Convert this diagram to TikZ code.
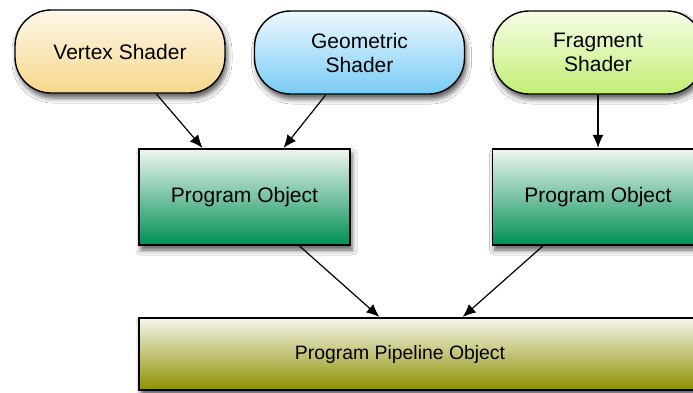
\documentclass[tikz,border=0pt]{standalone}
\usepackage{fontspec}
\setmainfont{Liberation Sans}
\usetikzlibrary{arrows.meta,shadows.blur,calc}

\definecolor{vtop}{HTML}{FEF8EA}\definecolor{vmid}{HTML}{FBE8BC}\definecolor{vbot}{HTML}{F6D68A}
\definecolor{gtop}{HTML}{EEF8FE}\definecolor{gmid}{HTML}{B9E3F9}\definecolor{gbot}{HTML}{78CCF5}
\definecolor{ftop}{HTML}{F7FDE6}\definecolor{fmid}{HTML}{E2F7B4}\definecolor{fbot}{HTML}{C3EE75}
\definecolor{ptop}{HTML}{EEF6F1}\definecolor{pmid}{HTML}{86C8A4}\definecolor{pbot}{HTML}{008F55}
\definecolor{ltop}{HTML}{F6F6EC}\definecolor{lmid}{HTML}{CBCB90}\definecolor{lbot}{HTML}{8C9100}

\tikzset{
  labelfont/.style={font=\fontsize{21}{24}\selectfont, text=black},
  boxbase/.style={draw=black, line width=1.4pt, align=center, labelfont,
    blur shadow={shadow xshift=2pt, shadow yshift=-5pt, shadow blur radius=5pt, shadow opacity=65}},
  shaderbox/.style={boxbase, rounded corners=36pt, minimum width=210pt, minimum height=83pt},
  progbox/.style={boxbase, minimum width=211pt, minimum height=96pt,
    top color=ptop, middle color=pmid, bottom color=pbot},
  pipebox/.style={boxbase, minimum width=564pt, minimum height=72pt,
    top color=ltop, middle color=lmid, bottom color=lbot},
  flow/.style={draw=black, line width=1.2pt, -{Latex[length=13pt,width=11pt]}, shorten <=0.5pt, shorten >=0.5pt}
}

\begin{document}
\begin{tikzpicture}[x=1pt, y=-1pt]
  \clip (0,0) rectangle (693,392);
  \fill[white] (0,0) rectangle (693,392);

  % shader stages
  \node[shaderbox, top color=vtop, middle color=vmid, bottom color=vbot] (vs) at (120,51.5) {Vertex Shader};
  \node[shaderbox, top color=gtop, middle color=gmid, bottom color=gbot] (gs) at (359.5,52.5) {Geometric\\Shader};
  \node[shaderbox, top color=ftop, middle color=fmid, bottom color=fbot] (fs) at (598,52.5) {Fragment\\Shader};

  % program objects
  \node[progbox] (po1) at (244.5,197) {Program Object};
  \node[progbox] (po2) at (598,197) {Program Object};

  % pipeline object
  \node[pipebox] (pp) at (421,354) {};
  \node[font=\fontsize{19.4}{23}\selectfont, text=black] (ppt) at (400,354) {Program Pipeline Object};

  % connections
  \draw[flow] (vs) -- (po1);
  \draw[flow] (gs) -- (po1);
  \draw[flow] (fs) -- (po2);
  \draw[flow] (po1) -- (pp);
  \draw[flow] (po2) -- (pp);
\end{tikzpicture}
\end{document}
